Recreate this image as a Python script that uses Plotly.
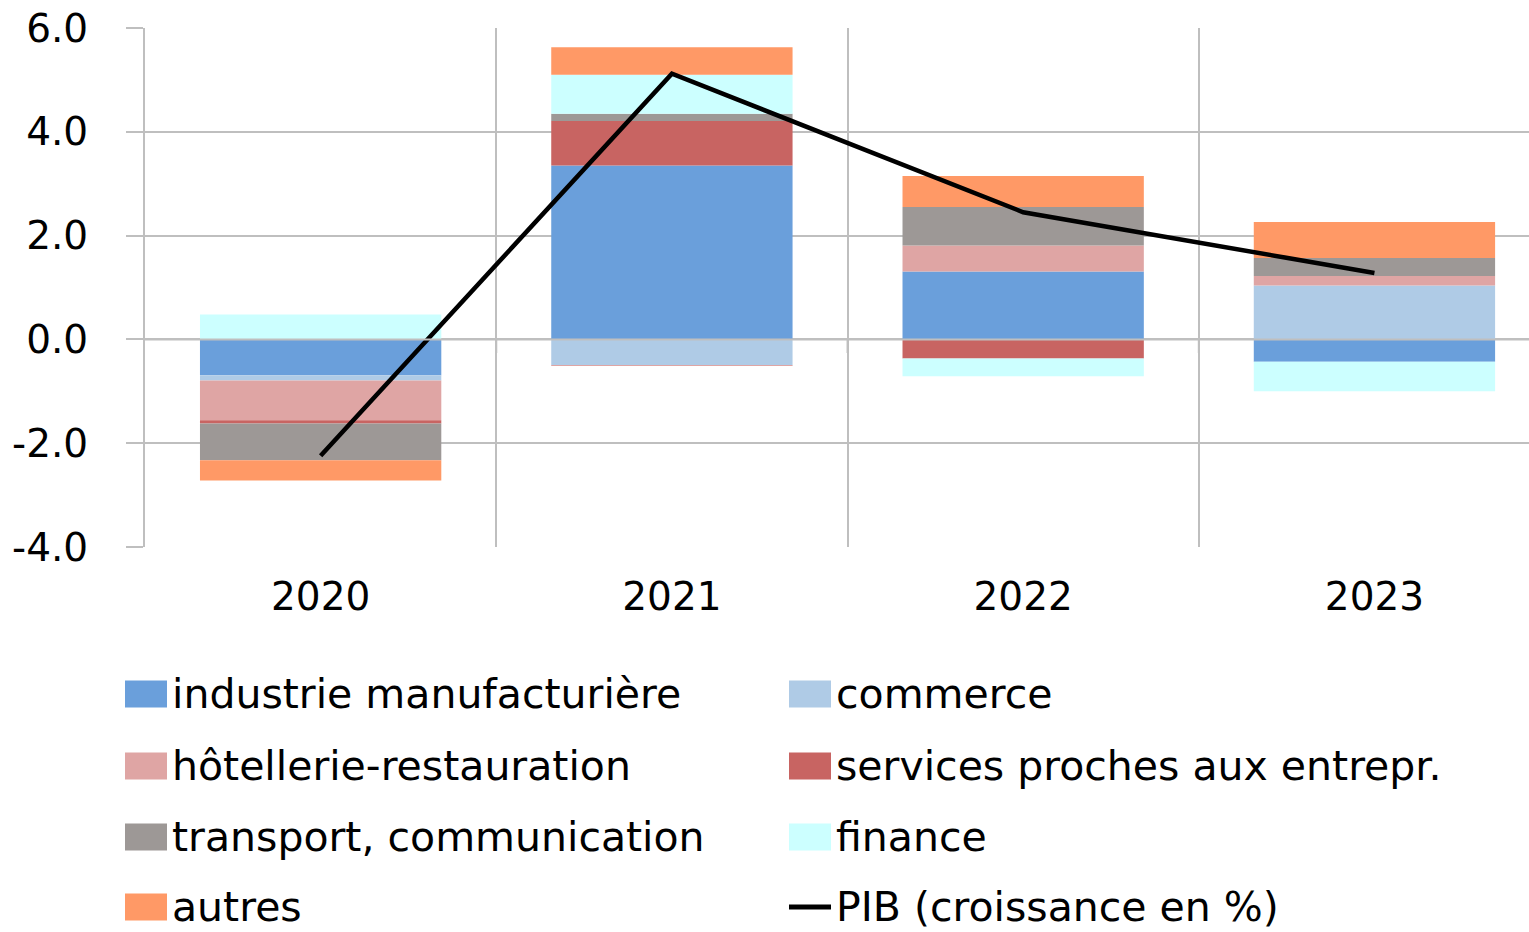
import plotly.graph_objects as go

years = ["2020", "2021", "2022", "2023"]
names = ["industrie manufacturière", "commerce", "hôtellerie-restauration",
         "services proches aux entrepr.", "transport, communication", "finance", "autres"]
industrie = [-0.69, 3.35, 1.31, -0.43]
commerce = [-0.10, -0.50, 0.0, 1.04]
hotellerie = [-0.77, -0.01, 0.50, 0.18]
services = [-0.06, 0.86, -0.37, 0.0]
transport = [-0.71, 0.14, 0.74, 0.35]
finance = [0.48, 0.75, -0.34, -0.57]
autres = [-0.39, 0.53, 0.60, 0.69]
pib = [-2.24, 5.12, 2.45, 1.28]
pib_name = "PIB (croissance en %)"
yticks = [-4, -2, 0, 2, 4, 6]
yticklabels = ["-4.0", "-2.0", "0.0", "2.0", "4.0", "6.0"]

series = [industrie, commerce, hotellerie, services, transport, finance, autres]
colors = ["#6A9FDB", "#AFCBE6", "#DFA5A4", "#C86462", "#9D9896", "#CCFFFF", "#FF9966"]

FONT = "DejaVu Sans"
fig = go.Figure()
for name, vals, col in zip(names, series, colors):
    fig.add_trace(go.Bar(x=years, y=vals, name=name, marker=dict(color=col, line=dict(width=0)),
                         width=0.687, showlegend=False))
fig.add_trace(go.Scatter(x=years, y=pib, name=pib_name, mode="lines",
                         line=dict(color="black", width=4.5), showlegend=False))

W, H = 1529, 932
ml, mr, mt, mb = 145, 0, 28, 385
pw, ph = W - ml - mr, H - mt - mb

def px2x(px):
    return (px - ml) / pw

def px2y(py):
    return (H - mb - py) / ph

shapes = []
annotations = []
# zero axis line and its boundary ticks
shapes.append(dict(type="line", xref="paper", yref="y", x0=0, x1=1, y0=0, y1=0,
                   line=dict(color="#BFBFBF", width=2), layer="above"))
for b in [0.5, 1.5, 2.5]:
    shapes.append(dict(type="line", xref="x", yref="paper", x0=b, x1=b,
                       y0=px2y(339), y1=px2y(353), line=dict(color="#BFBFBF", width=2)))

# manual legend (2 columns)
legend_entries = list(zip(names, colors)) + [(pib_name, None)]
col_x = [125, 789]
row_y = [694, 766, 837, 907]
for i, (nm, col) in enumerate(legend_entries):
    cx = col_x[i % 2]
    ry = row_y[i // 2]
    if col is not None:
        shapes.append(dict(type="rect", xref="paper", yref="paper",
                           x0=px2x(cx), x1=px2x(cx + 42), y0=px2y(ry - 13.5), y1=px2y(ry + 13.5),
                           fillcolor=col, line=dict(width=0)))
    else:
        shapes.append(dict(type="line", xref="paper", yref="paper",
                           x0=px2x(cx), x1=px2x(cx + 42), y0=px2y(ry), y1=px2y(ry),
                           line=dict(color="black", width=5)))
    annotations.append(dict(text=nm, xref="paper", yref="paper", x=px2x(cx + 45), y=px2y(ry),
                            xanchor="left", yanchor="middle", showarrow=False,
                            font=dict(family=FONT, size=41, color="black")))

fig.update_layout(
    width=W, height=H,
    margin=dict(l=ml, r=mr, t=mt, b=mb, autoexpand=False),
    barmode="relative",
    plot_bgcolor="white", paper_bgcolor="white",
    font=dict(family=FONT, size=39, color="black"),
    shapes=shapes, annotations=annotations,
    showlegend=False,
)
fig.update_xaxes(type="category", range=[-0.5, 3.44], tickson="boundaries",
                 showgrid=True, gridcolor="#BFBFBF", gridwidth=2,
                 ticks="", showline=False, zeroline=False, ticklabelstandoff=23,
                 tickfont=dict(family=FONT, size=39, color="black"))
fig.update_yaxes(range=[-4, 6], tickvals=yticks, ticktext=yticklabels,
                 showgrid=True, gridcolor="#BFBFBF", gridwidth=2,
                 showline=True, linecolor="#BFBFBF", linewidth=2,
                 ticks="outside", ticklen=17, tickcolor="#BFBFBF", tickwidth=2,
                 zeroline=False, ticklabelstandoff=30, ticklabeloverflow="allow",
                 tickfont=dict(family=FONT, size=39, color="black"))

fig.write_html("out.html", config={"displayModeBar": False},
               post_script="document.body.style.margin='0';document.body.style.overflow='hidden';")
